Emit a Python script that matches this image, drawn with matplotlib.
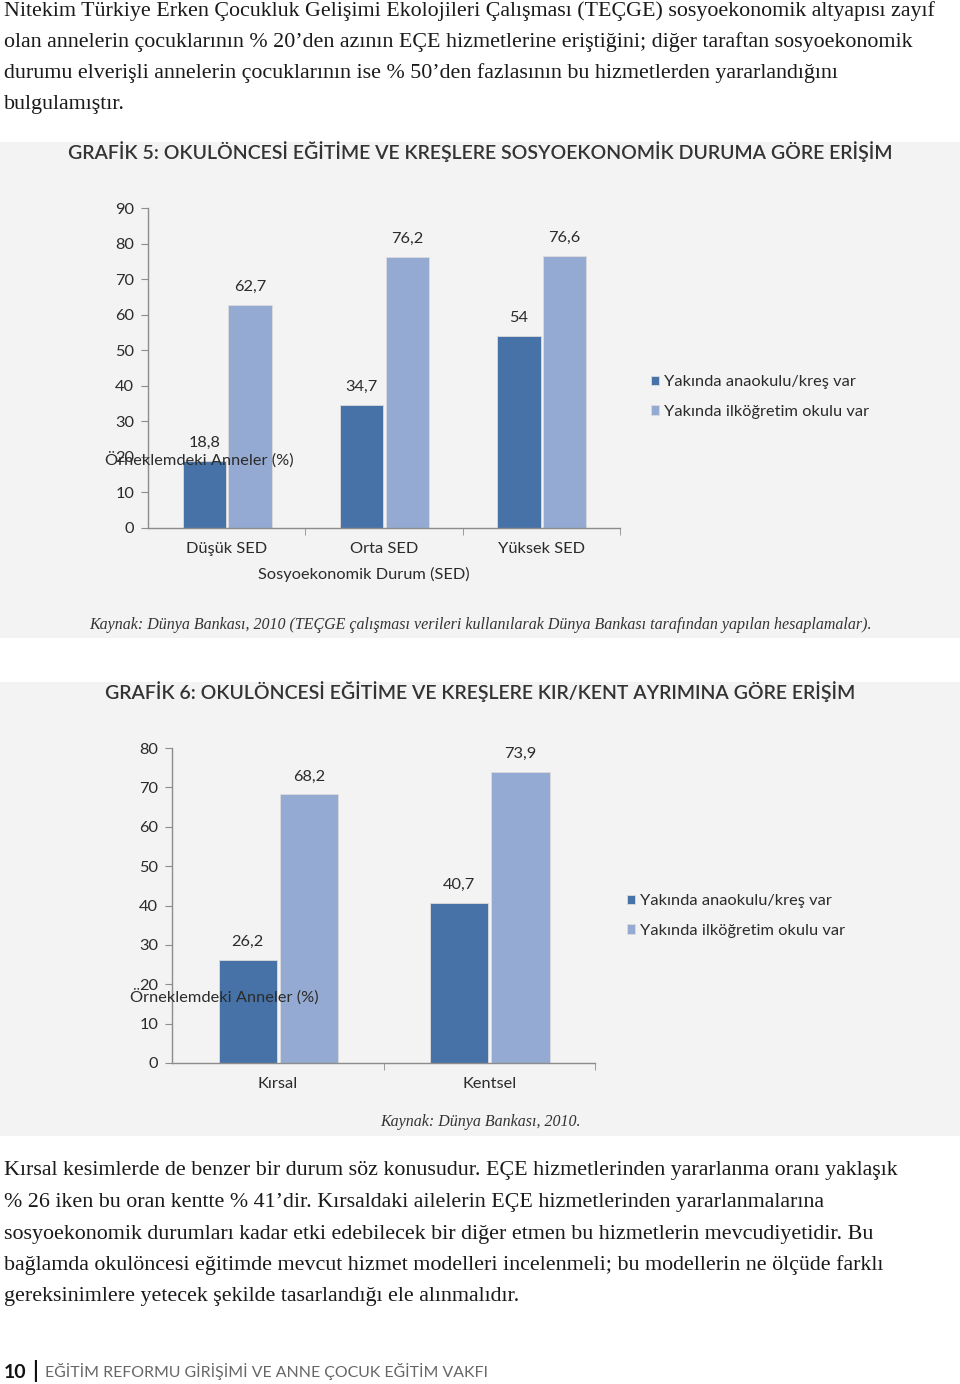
import matplotlib
matplotlib.use("Agg")
import matplotlib.pyplot as plt
from matplotlib.patches import Rectangle

# --- veriler ---
sed_kategoriler = ["Düşük SED", "Orta SED", "Yüksek SED"]
sed_anaokulu = [18.8, 34.7, 54]
sed_ilkogretim = [62.7, 76.2, 76.6]

yer_kategoriler = ["Kırsal", "Kentsel"]
yer_anaokulu = [26.2, 40.7]
yer_ilkogretim = [68.2, 73.9]

seri_adlari = ["Yakında anaokulu/kreş var", "Yakında ilköğretim okulu var"]

ust_paragraf = [
    "Nitekim Türkiye Erken Çocukluk Gelişimi Ekolojileri Çalışması (TEÇGE) sosyoekonomik altyapısı zayıf",
    "olan annelerin çocuklarının % 20’den azının EÇE hizmetlerine eriştiğini; diğer taraftan sosyoekonomik",
    "durumu elverişli annelerin çocuklarının ise % 50’den fazlasının bu hizmetlerden yararlandığını",
    "bulgulamıştır.",
]
alt_paragraf = [
    "Kırsal kesimlerde de benzer bir durum söz konusudur. EÇE hizmetlerinden yararlanma oranı yaklaşık",
    "% 26 iken bu oran kentte % 41’dir. Kırsaldaki ailelerin EÇE hizmetlerinden yararlanmalarına",
    "sosyoekonomik durumları kadar etki edebilecek bir diğer etmen bu hizmetlerin mevcudiyetidir. Bu",
    "bağlamda okulöncesi eğitimde mevcut hizmet modelleri incelenmeli; bu modellerin ne ölçüde farklı",
    "gereksinimlere yetecek şekilde tasarlandığı ele alınmalıdır.",
]

KOYU = "#4672a8"
ACIK = "#94aad2"
ZEMIN = "#f3f3f3"
EKSEN = "#8c8c8c"
YAZI = "#2b2b2b"
SANS = ["Lato", "DejaVu Sans"]
SERIF = ["Liberation Serif", "DejaVu Serif"]
FS = 11.8

W, H = 960, 1384
fig = plt.figure(figsize=(W / 100, H / 100), dpi=100)
fig.patch.set_facecolor("white")


def fx(x):
    return x / W


def fy(y):
    return 1 - y / H


def metin(x, y, s, **kw):
    kw.setdefault("va", "center")
    fig.text(fx(x), fy(y), s, **kw)


# gri zeminler
fig.add_artist(Rectangle((0, fy(638)), 1, (638 - 142) / H, transform=fig.transFigure,
                         facecolor=ZEMIN, edgecolor="none", zorder=0))
fig.add_artist(Rectangle((0, fy(1136)), 1, (1136 - 682) / H, transform=fig.transFigure,
                         facecolor=ZEMIN, edgecolor="none", zorder=0))

# paragraflar
for i, satir in enumerate(ust_paragraf):
    metin(4, 11 + i * 31.2, satir, family=SERIF, fontsize=15.8, color="#1a1a1a")
for i, satir in enumerate(alt_paragraf):
    metin(4, 1171 + i * 31.5, satir, family=SERIF, fontsize=15.8, color="#1a1a1a")


def grafik(sol, ust, sag, alt, ymax, yadim, kategoriler, koyu, acik, ylabel_xy, legend_xy, xlabel=None):
    ax = fig.add_axes([fx(sol), fy(alt), (sag - sol) / W, (alt - ust) / H])
    ax.set_facecolor("none")
    n = len(kategoriler)
    x = list(range(n))
    gen = 0.275
    b1 = ax.bar([i - 0.142 for i in x], koyu, gen, color=KOYU, edgecolor="#dcdcdc", linewidth=0.6, label=seri_adlari[0])
    b2 = ax.bar([i + 0.148 for i in x], acik, gen, color=ACIK, edgecolor="#dcdcdc", linewidth=0.6, label=seri_adlari[1])
    for bars in (b1, b2):
        for r in bars:
            v = r.get_height()
            etiket = f"{v:g}".replace(".", ",")
            ax.annotate(etiket, (r.get_x() + r.get_width() / 2, v), xytext=(0, 13),
                        textcoords="offset points", ha="center", va="center",
                        family=SANS, fontsize=FS, color=YAZI)
    ax.set_xlim(-0.5, n - 0.5)
    ax.set_ylim(0, ymax)
    ax.set_yticks(range(0, ymax + 1, yadim))
    ax.set_xticks(x)
    ax.set_xticklabels(kategoriler)
    ax.set_xticks([i + 0.5 for i in x], minor=True)
    for s in ("top", "right"):
        ax.spines[s].set_visible(False)
    for s in ("left", "bottom"):
        ax.spines[s].set_color(EKSEN)
        ax.spines[s].set_linewidth(1.0)
    ax.tick_params(axis="y", direction="out", length=5, color=EKSEN, labelsize=FS,
                   labelcolor=YAZI, pad=5)
    ax.tick_params(axis="x", which="major", length=0, labelsize=FS, labelcolor=YAZI, pad=10)
    ax.tick_params(axis="x", which="minor", direction="out", length=5, color=EKSEN)
    for t in ax.get_xticklabels() + ax.get_yticklabels():
        t.set_family(SANS)
    metin(ylabel_xy[0], ylabel_xy[1], "Örneklemdeki Anneler (%)", family=SANS, fontsize=FS, color=YAZI)
    if xlabel:
        metin((sol + sag) / 2 - 20, alt + 46, xlabel, family=SANS, fontsize=FS, color=YAZI, ha="center")
    fig.legend(handles=[b1, b2], loc="center left", bbox_to_anchor=(fx(legend_xy[0]), fy(legend_xy[1])),
               frameon=False, handlelength=0.5, handleheight=0.5, handletextpad=0.3,
               labelspacing=0.95, borderpad=0, prop={"family": SANS, "size": FS},
               labelcolor=YAZI)
    return ax


# GRAFİK 5
metin(480, 152, "GRAFİK 5: OKULÖNCESİ EĞİTİME VE KREŞLERE SOSYOEKONOMİK DURUMA GÖRE ERİŞİM",
      family=SANS, fontsize=14, fontweight="semibold", color="#333333", ha="center")
grafik(148, 208, 620, 528, 90, 10, sed_kategoriler, sed_anaokulu, sed_ilkogretim,
       (105, 460), (643, 397), xlabel="Sosyoekonomik Durum (SED)")
metin(480, 625, "Kaynak: Dünya Bankası, 2010 (TEÇGE çalışması verileri kullanılarak Dünya Bankası tarafından yapılan hesaplamalar).",
      family=SERIF, fontsize=11.5, style="italic", color="#333333", ha="center")

# GRAFİK 6
metin(480, 692, "GRAFİK 6: OKULÖNCESİ EĞİTİME VE KREŞLERE KIR/KENT AYRIMINA GÖRE ERİŞİM",
      family=SANS, fontsize=14, fontweight="semibold", color="#333333", ha="center")
grafik(172, 748, 595, 1063, 80, 10, yer_kategoriler, yer_anaokulu, yer_ilkogretim,
       (130, 997), (619, 916))
metin(480, 1122, "Kaynak: Dünya Bankası, 2010.", family=SERIF, fontsize=11.5, style="italic",
      color="#333333", ha="center")

# alt bilgi
metin(4, 1372, "10", family=SANS, fontsize=14, fontweight="bold", color="#111111")
metin(32, 1371, "|", family=SANS, fontsize=16, fontweight="bold", color="#111111")
metin(45, 1372, "EĞİTİM REFORMU GİRİŞİMİ VE ANNE ÇOCUK EĞİTİM VAKFI", family=SANS,
      fontsize=11.4, color="#666666")

fig.savefig("out.png", dpi=100, facecolor="white")
